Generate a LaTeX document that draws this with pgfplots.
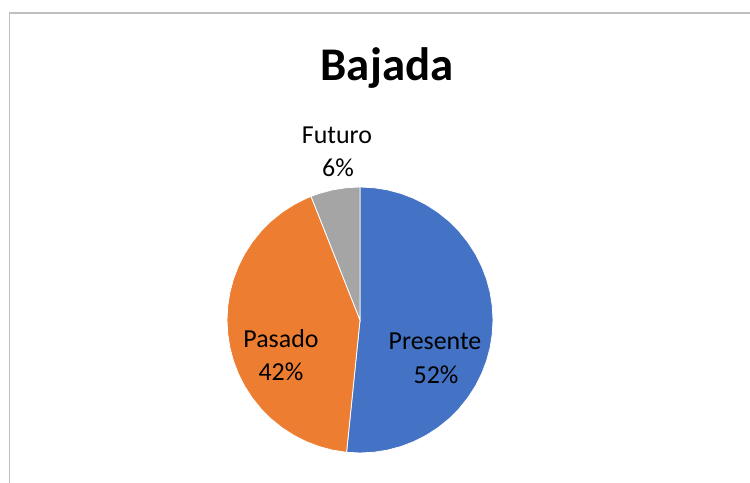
\documentclass[border=0pt]{standalone}
\usepackage{pgfplots}
\pgfplotsset{compat=1.18}
\usepackage{fontspec}
\setmainfont{Carlito}
\definecolor{cBlue}{HTML}{4472C4}
\definecolor{cOrange}{HTML}{ED7D31}
\definecolor{cGray}{HTML}{A5A5A5}
\definecolor{cBorder}{HTML}{BFBFBF}
\begin{document}
\begin{tikzpicture}[x=1bp,y=1bp]
\useasboundingbox (0,0) rectangle (750,483);
\fill[white] (0,0) rectangle (750,483);
\draw[cBorder, line width=1.2bp] (9.5,-5) -- (9.5,470) -- (760,470);
\node[anchor=base, font=\fontsize{47}{56}\selectfont\bfseries] at (387,402) {Bajada};
% Shares: Presente 52%, Pasado 42%, Futuro 6% (clockwise from 90 deg)
\begin{axis}[at={(360bp,163bp)}, anchor=center, scale only axis,
  width=266bp, height=266bp, xmin=-1, xmax=1, ymin=-1, ymax=1,
  hide axis, clip=false, data cs=polar]
\addplot[fill=cBlue, draw=white, line width=0.8bp] coordinates {
 (0,0) (90,1) (84,1) (78,1) (72,1) (66,1) (60,1) (54,1) (48,1) (42,1) (36,1)
 (30,1) (24,1) (18,1) (12,1) (6,1) (0,1) (-6,1) (-12,1) (-18,1) (-24,1)
 (-30,1) (-36,1) (-42,1) (-48,1) (-54,1) (-60,1) (-66,1) (-72,1) (-78,1)
 (-84,1) (-90,1) (-95.8,1) (0,0)} --cycle;
\addplot[fill=cOrange, draw=white, line width=0.8bp] coordinates {
 (0,0) (-95.8,1) (-102,1) (-108,1) (-114,1) (-120,1) (-126,1) (-132,1)
 (-138,1) (-144,1) (-150,1) (-156,1) (-162,1) (-168,1) (-174,1) (-180,1)
 (-186,1) (-192,1) (-198,1) (-204,1) (-210,1) (-216,1) (-222,1) (-228,1)
 (-234,1) (-240,1) (-246,1) (-248.4,1) (0,0)} --cycle;
\addplot[fill=cGray, draw=white, line width=0.8bp] coordinates {
 (0,0) (111.6,1) (108,1) (102,1) (96,1) (90,1) (0,0)} --cycle;
\end{axis}
\begin{scope}[every node/.style={anchor=base, font=\fontsize{26}{31}\selectfont}]
\node at (337,339) {Futuro};
\node at (338,306) {6\%};
\node at (435,133) {Presente};
\node at (436,99) {52\%};
\node at (281,135) {Pasado};
\node at (281,102) {42\%};
\end{scope}
\end{tikzpicture}
\end{document}
